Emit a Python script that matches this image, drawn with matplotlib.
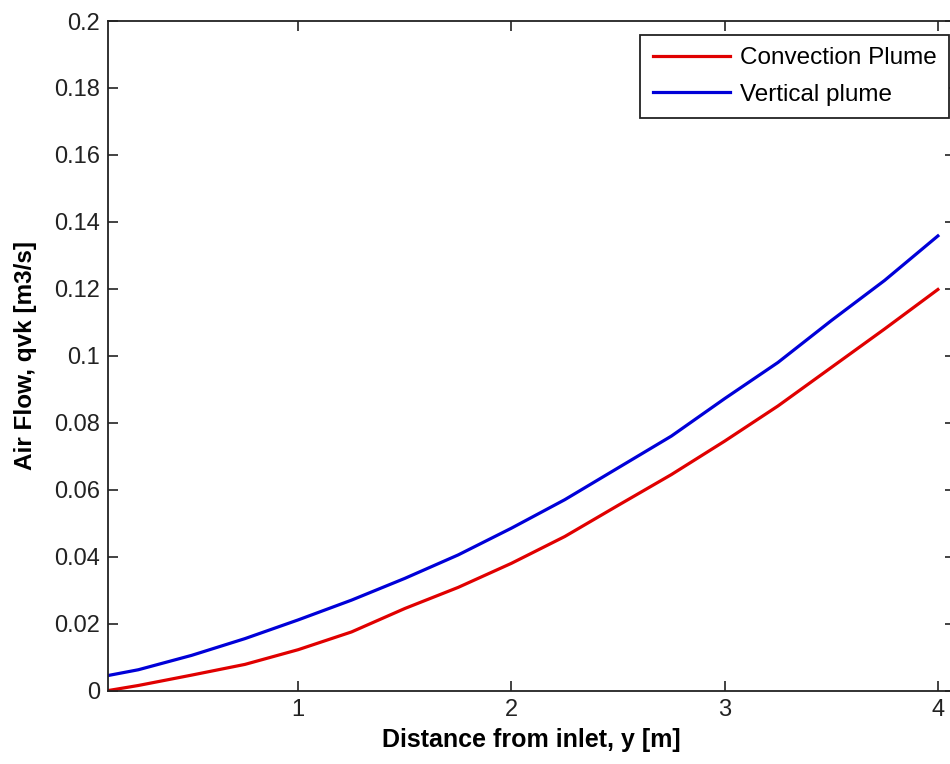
import matplotlib
matplotlib.use("Agg")
import matplotlib.pyplot as plt

# values
dist = [0.11, 0.25, 0.5, 0.75, 1.0, 1.25, 1.5, 1.75, 2.0, 2.25, 2.5, 2.75, 3.0, 3.25, 3.5, 3.75, 4.0]
convection = [0.0, 0.0015, 0.0046, 0.0078, 0.0122, 0.0175, 0.0245, 0.0308, 0.038, 0.046,
              0.0553, 0.0645, 0.0745, 0.085, 0.0965, 0.108, 0.1198]
vertical = [0.0045, 0.0062, 0.0105, 0.0155, 0.0211, 0.027, 0.0335, 0.0405, 0.0485, 0.057,
            0.0665, 0.076, 0.0872, 0.098, 0.1105, 0.1225, 0.1358]
yticks = [0, 0.02, 0.04, 0.06, 0.08, 0.1, 0.12, 0.14, 0.16, 0.18, 0.2]
ytick_labels = ["0", "0.02", "0.04", "0.06", "0.08", "0.1", "0.12", "0.14", "0.16", "0.18", "0.2"]
xticks = [1, 2, 3, 4]

plt.rcParams['font.family'] = ['Liberation Sans', 'DejaVu Sans']

fig = plt.figure(figsize=(9.5, 7.64), dpi=100)
ax = fig.add_axes([0.1142, 0.0962, 0.891, 0.8763])

ax.plot(dist, convection, color='#e00000', lw=2.3, label='Convection Plume')
ax.plot(dist, vertical, color='#0000d8', lw=2.3, label='Vertical plume')

ax.set_xlim(0.11, 4.08)
ax.set_ylim(0, 0.2)
ax.set_xticks(xticks)
ax.set_xticklabels([str(t) for t in xticks])
ax.set_yticks(yticks)
ax.set_yticklabels(ytick_labels)
ax.tick_params(direction='in', length=7, width=1.2, top=True, right=True,
               labelsize=17, colors='#222222', pad=6)
for s in ax.spines.values():
    s.set_linewidth(1.3)
    s.set_color('#222222')

ax.set_xlabel('Distance from inlet, y [m]', fontsize=18, fontweight='bold', labelpad=5)
ax.set_ylabel('Air Flow, qvk [m3/s]', fontsize=17.5, fontweight='bold', labelpad=12)

leg = ax.legend(loc='upper right', bbox_to_anchor=(0.999, 0.954), bbox_transform=fig.transFigure,
                fontsize=17.5, fancybox=False, edgecolor='#222222', framealpha=1,
                handlelength=3.2, handletextpad=0.4, borderpad=0.5, labelspacing=0.6,
                borderaxespad=0)
leg.get_frame().set_linewidth(1.3)

fig.savefig('out.png', dpi=100)
